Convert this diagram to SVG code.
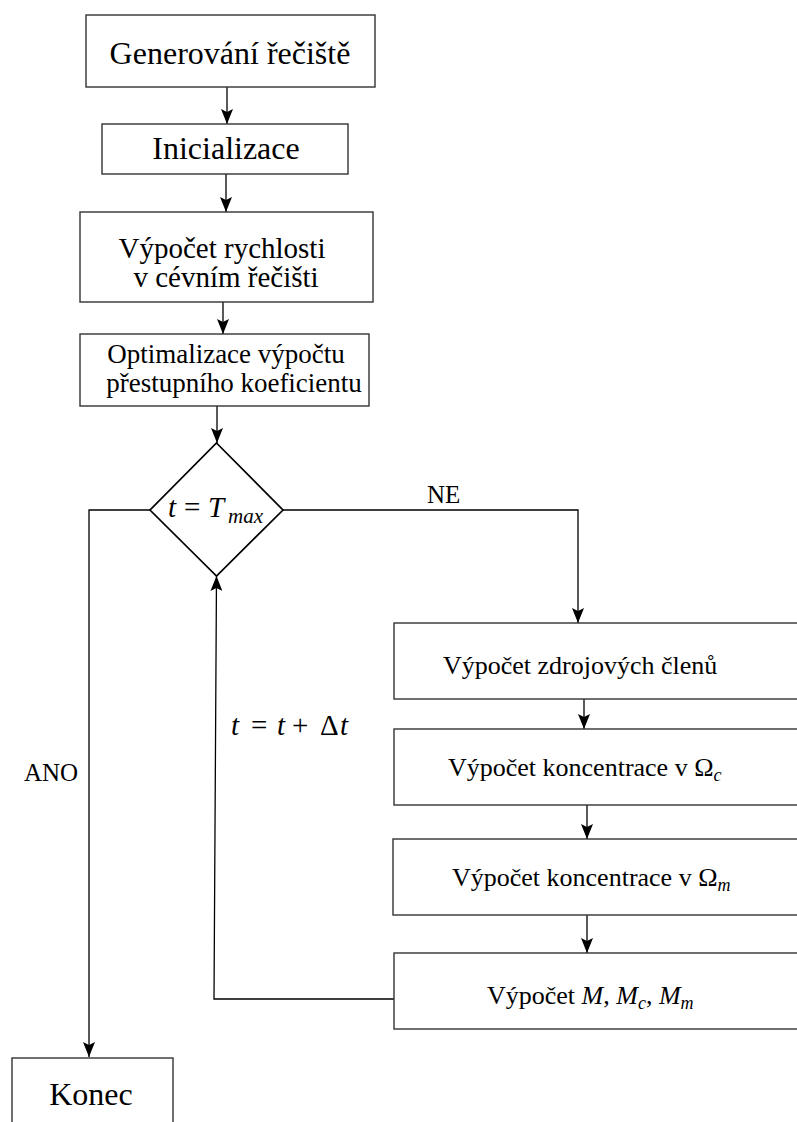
<svg xmlns="http://www.w3.org/2000/svg" width="797" height="1122" viewBox="0 0 797 1122">
<style>
.box{fill:#fff;stroke:#333;stroke-width:1.4}
.dia{fill:#fff;stroke:#000;stroke-width:1.7}
.ln{fill:none;stroke:#000;stroke-width:1.3}
.t{font-family:"Liberation Serif","Times New Roman",serif;fill:#000}
.c{text-anchor:middle}
.i{font-style:italic}
</style>
<defs>
<marker id="ah" viewBox="0 0 15 12" refX="15" refY="6" markerWidth="15" markerHeight="12" markerUnits="userSpaceOnUse" orient="auto">
<path d="M0,0 L15,6 L0,12 L3,6 z" fill="#000"/>
</marker>
</defs>
<rect width="797" height="1122" fill="#fff"/>
<g id="connectors" font-family="Liberation Serif, serif">
<line class="ln" x1="227" y1="87" x2="227" y2="124" marker-end="url(#ah)"/>
<line class="ln" x1="226" y1="174" x2="226" y2="212" marker-end="url(#ah)"/>
<line class="ln" x1="223" y1="302" x2="223" y2="334" marker-end="url(#ah)"/>
<line class="ln" x1="217" y1="406" x2="217" y2="443" marker-end="url(#ah)"/>
<polyline class="ln" points="283,510 578,510 578,623" marker-end="url(#ah)"/>
<line class="ln" x1="584" y1="699" x2="584" y2="729" marker-end="url(#ah)"/>
<line class="ln" x1="587" y1="805" x2="587" y2="839" marker-end="url(#ah)"/>
<line class="ln" x1="587" y1="915" x2="587" y2="953" marker-end="url(#ah)"/>
<polyline class="ln" points="394,999 214,999 216.5,576" marker-end="url(#ah)"/>
<polyline class="ln" points="150,510 89,510 89,1057" marker-end="url(#ah)"/>
<text class="t" x="427" y="503" font-size="25">NE</text>
<text class="t" x="24" y="781" font-size="25">ANO</text>
<text class="t" y="735" font-size="29"><tspan class="i" x="231">t</tspan><tspan x="251">=</tspan><tspan class="i" x="277">t</tspan><tspan x="292">+</tspan><tspan x="320">Δ</tspan><tspan class="i" x="340">t</tspan></text>
</g>
<g id="n1"><rect class="box" x="86" y="15" width="289" height="72"/><text class="t c" x="230" y="64" font-size="32">Generování řečiště</text></g>
<g id="n2"><rect class="box" x="102" y="124" width="246" height="50"/><text class="t c" x="226" y="159" font-size="32">Inicializace</text></g>
<g id="n3"><rect class="box" x="80" y="212" width="293" height="90"/><text class="t c" x="222" y="258" font-size="29">Výpočet rychlosti</text><text class="t c" x="226" y="287" font-size="29">v cévním řečišti</text></g>
<g id="n4"><rect class="box" x="80" y="334" width="289" height="72"/><text class="t c" x="226" y="363" font-size="27">Optimalizace výpočtu</text><text class="t c" x="234" y="392" font-size="27">přestupního koeficientu</text></g>
<g id="n5"><path class="dia" d="M216.5,443 L283,510 L216.5,576 L150,510 Z"/><text class="t" y="517" font-size="29"><tspan class="i" x="168">t</tspan><tspan x="184">=</tspan><tspan class="i" x="208">T</tspan><tspan class="i" x="228" y="523" font-size="21">max</tspan></text></g>
<g id="n6"><rect class="box" x="394" y="623" width="410" height="76"/><text class="t" x="443" y="674" font-size="26">Výpočet zdrojových členů</text></g>
<g id="n7"><rect class="box" x="394" y="729" width="410" height="76"/><text class="t" x="448" y="776" font-size="26">Výpočet koncentrace v Ω<tspan class="i" font-size="18" dy="5">c</tspan></text></g>
<g id="n8"><rect class="box" x="393" y="839" width="411" height="76"/><text class="t" x="452" y="886" font-size="26">Výpočet koncentrace v Ω<tspan class="i" font-size="18" dy="5">m</tspan></text></g>
<g id="n9"><rect class="box" x="394" y="953" width="410" height="76"/><text class="t" x="487" y="1004" font-size="26">Výpočet <tspan class="i">M</tspan>, <tspan class="i">M</tspan><tspan class="i" font-size="18" dy="5">c</tspan><tspan dy="-5">, </tspan><tspan class="i">M</tspan><tspan class="i" font-size="18" dy="5">m</tspan></text></g>
<g id="n10"><rect class="box" x="12" y="1058" width="161" height="80"/><text class="t c" x="91" y="1105" font-size="32">Konec</text></g>
</svg>
